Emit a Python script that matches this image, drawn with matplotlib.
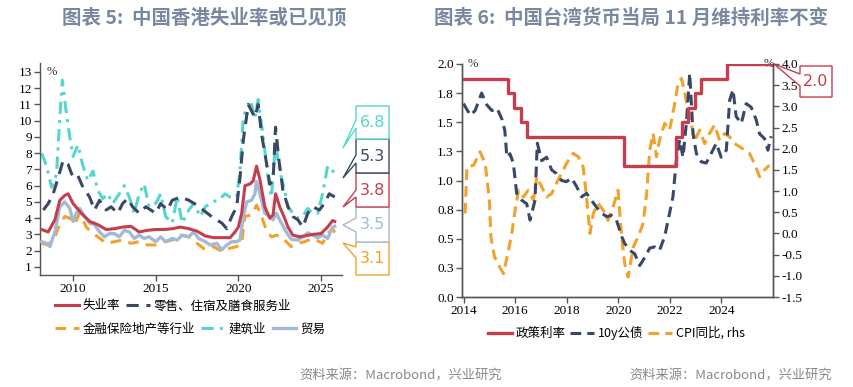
import matplotlib
matplotlib.use("Agg")
import matplotlib.pyplot as plt
from matplotlib.patches import Polygon

plt.rcParams['font.family'] = ['Noto Sans CJK SC', 'DejaVu Sans']

# ---------------- data: left chart (Hong Kong unemployment, %) ----------------
unemp_t = [2008.1, 2008.5, 2008.9, 2009.2, 2009.5, 2009.7, 2010.0, 2010.5, 2011.0, 2011.5, 2012.0, 2012.5,
           2013.0, 2013.5, 2014.0, 2014.5, 2015.0, 2015.5, 2016.0, 2016.5, 2017.0, 2017.5, 2018.0, 2018.5,
           2019.0, 2019.5, 2019.8, 2020.0, 2020.2, 2020.4, 2020.7, 2020.9, 2021.1, 2021.3, 2021.6, 2021.9,
           2022.1, 2022.25, 2022.5, 2022.8, 2023.0, 2023.3, 2023.7, 2024.0, 2024.5, 2025.0, 2025.4, 2025.7, 2025.83]
unemp_v = [3.3, 3.15, 3.9, 5.1, 5.4, 5.5, 4.9, 4.3, 3.8, 3.6, 3.3, 3.35,
           3.45, 3.5, 3.15, 3.25, 3.3, 3.3, 3.35, 3.45, 3.35, 3.2, 2.9, 2.8,
           2.8, 2.8, 3.15, 3.45, 4.3, 6.0, 6.1, 6.3, 7.2, 6.4, 4.7, 4.0,
           4.2, 5.5, 4.7, 4.0, 3.45, 2.95, 2.85, 2.9, 3.0, 3.05, 3.45, 3.85, 3.8]

retail_t = [2008.2, 2008.5, 2008.8, 2009.1, 2009.4, 2009.7, 2010.0, 2010.3, 2010.6, 2011.0, 2011.3, 2011.6,
            2012.0, 2012.3, 2012.7, 2013.0, 2013.3, 2013.6, 2014.0, 2014.4, 2014.7, 2015.0, 2015.3, 2015.7,
            2016.0, 2016.5, 2017.0, 2017.5, 2018.0, 2018.5, 2019.0, 2019.3, 2019.6, 2019.9, 2020.1, 2020.3,
            2020.6, 2020.8, 2021.0, 2021.2, 2021.4, 2021.7, 2021.9, 2022.1, 2022.25, 2022.45, 2022.7, 2023.0,
            2023.3, 2023.6, 2023.9, 2024.2, 2024.5, 2024.9, 2025.2, 2025.5, 2025.83]
retail_v = [4.5, 4.9, 5.5, 6.5, 7.55, 7.3, 6.5, 6.6, 5.9, 5.3, 4.5, 5.1,
            4.5, 4.7, 4.3, 4.9, 5.2, 4.7, 4.3, 4.7, 4.5, 4.3, 4.9, 4.5,
            5.1, 5.3, 5.1, 4.8, 4.4, 4.0, 3.7, 3.35, 4.1, 4.7, 6.5, 8.8,
            11.0, 10.6, 10.2, 11.0, 9.2, 7.4, 6.1, 6.3, 9.6, 7.6, 5.7, 4.7,
            4.1, 3.9, 3.45, 4.3, 4.7, 4.5, 4.9, 5.5, 5.3]

finance_t = [2008.1, 2008.5, 2008.9, 2009.2, 2009.5, 2009.8, 2010.1, 2010.4, 2010.8, 2011.1, 2011.5, 2012.0,
             2012.5, 2013.0, 2013.5, 2014.0, 2014.5, 2015.0, 2015.5, 2016.0, 2016.5, 2017.0, 2017.5, 2018.0,
             2018.5, 2019.0, 2019.5, 2019.9, 2020.2, 2020.4, 2020.8, 2021.1, 2021.4, 2021.7, 2022.0, 2022.3,
             2022.6, 2022.9, 2023.2, 2023.6, 2024.0, 2024.5, 2024.9, 2025.1, 2025.4, 2025.7, 2025.83]
finance_v = [2.45, 2.35, 2.85, 3.65, 4.1, 4.0, 3.65, 4.3, 3.45, 3.15, 2.85, 2.45,
             2.55, 2.65, 2.45, 2.55, 2.35, 2.35, 2.55, 2.65, 2.95, 2.85, 2.45, 2.05,
             2.25, 1.95, 2.15, 2.25, 2.45, 4.1, 4.2, 4.8, 4.1, 3.25, 2.85, 2.95,
             2.85, 2.55, 2.25, 2.45, 2.55, 2.75, 2.55, 2.45, 3.05, 3.35, 3.1]

constr_t = [2008.1, 2008.4, 2008.7, 2009.0, 2009.2, 2009.35, 2009.55, 2009.8, 2010.0, 2010.3, 2010.6, 2010.9,
            2011.2, 2011.5, 2011.8, 2012.1, 2012.4, 2012.8, 2013.1, 2013.4, 2013.7, 2014.0, 2014.3, 2014.6,
            2015.0, 2015.3, 2015.6, 2016.0, 2016.3, 2016.6, 2017.0, 2017.3, 2017.7, 2018.0, 2018.4, 2018.8,
            2019.2, 2019.5, 2019.9, 2020.1, 2020.3, 2020.5, 2020.8, 2021.0, 2021.2, 2021.5, 2021.8, 2022.0,
            2022.25, 2022.5, 2022.8, 2023.0, 2023.3, 2023.6, 2023.9, 2024.2, 2024.5, 2024.8, 2025.1, 2025.4,
            2025.7, 2025.83]
constr_v = [8.0, 7.2, 5.9, 6.7, 10.2, 12.5, 10.8, 9.0, 7.8, 8.5, 7.2, 6.3,
            6.9, 5.7, 5.2, 5.5, 4.9, 5.5, 6.0, 5.3, 4.3, 5.5, 6.1, 4.7,
            4.9, 5.5, 4.1, 3.7, 5.3, 3.7, 4.5, 4.9, 4.1, 4.7, 5.0, 5.1,
            5.5, 5.3, 5.3, 6.9, 10.2, 10.8, 11.0, 10.2, 11.3, 9.0, 6.5, 5.3,
            8.6, 6.9, 5.7, 4.7, 4.3, 4.0, 4.1, 4.6, 4.3, 4.3, 5.5, 7.2,
            6.9, 6.8]

trade_t = [2008.1, 2008.4, 2008.6, 2008.9, 2009.2, 2009.5, 2009.8, 2010.0, 2010.2, 2010.4, 2010.7, 2011.0,
           2011.3, 2011.6, 2011.9, 2012.2, 2012.5, 2012.8, 2013.1, 2013.4, 2013.7, 2014.0, 2014.3, 2014.6,
           2015.0, 2015.3, 2015.6, 2016.0, 2016.3, 2016.6, 2017.0, 2017.3, 2017.6, 2018.0, 2018.3, 2018.7,
           2019.0, 2019.3, 2019.6, 2019.9, 2020.1, 2020.3, 2020.5, 2020.8, 2021.0, 2021.1, 2021.3, 2021.6,
           2021.9, 2022.1, 2022.3, 2022.6, 2022.9, 2023.2, 2023.6, 2023.9, 2024.2, 2024.5, 2024.8, 2025.1,
           2025.4, 2025.7, 2025.83]
trade_v = [2.55, 2.45, 2.25, 3.15, 4.7, 5.0, 4.6, 3.8, 4.3, 4.6, 4.1, 3.7,
           3.6, 3.15, 2.85, 3.05, 3.05, 2.85, 3.25, 3.15, 2.75, 2.95, 2.75, 2.85,
           2.55, 2.85, 2.55, 2.75, 2.65, 2.95, 2.85, 3.15, 2.75, 2.55, 2.35, 2.45,
           2.05, 2.35, 2.55, 2.55, 2.65, 4.1, 5.0, 5.1, 5.5, 6.25, 5.5, 4.3,
           4.1, 3.9, 4.3, 3.7, 3.15, 2.7, 2.65, 2.85, 3.1, 2.95, 2.8, 2.95,
           2.75, 3.45, 3.5]

left_labels = ['失业率', '零售、住宿及膳食服务业', '金融保险地产等行业', '建筑业', '贸易']
left_xticks = [2010, 2015, 2020, 2025]
left_yticks = list(range(1, 14))

# ---------------- data: right chart (Taiwan) ----------------
policy_t = [2014.0, 2015.72, 2015.97, 2016.22, 2016.47, 2020.22, 2022.22, 2022.47, 2022.72, 2022.97,
            2023.22, 2024.22, 2026.0]
policy_v = [1.875, 1.75, 1.625, 1.5, 1.375, 1.125, 1.375, 1.5, 1.625, 1.75, 1.875, 2.0, 2.0]

bond_t = [2014.0, 2014.26, 2014.45, 2014.7, 2014.9, 2015.1, 2015.3, 2015.5, 2015.6, 2015.68, 2015.8, 2015.93,
          2016.06, 2016.26, 2016.45, 2016.58, 2016.77, 2016.86, 2017.03, 2017.22, 2017.42, 2017.6, 2017.8, 2017.99,
          2018.19, 2018.38, 2018.58, 2018.77, 2018.96, 2019.16, 2019.35, 2019.55, 2019.74, 2019.93, 2020.13, 2020.25,
          2020.45, 2020.64, 2020.83, 2021.03, 2021.22, 2021.41, 2021.6, 2021.8, 2021.99, 2022.12, 2022.25, 2022.38,
          2022.51, 2022.64, 2022.77, 2022.9, 2023.03, 2023.22, 2023.41, 2023.6, 2023.8, 2023.99, 2024.19, 2024.32,
          2024.45, 2024.57, 2024.77, 2024.96, 2025.15, 2025.35, 2025.48, 2025.67, 2025.8, 2025.93]
bond_v = [1.66, 1.56, 1.60, 1.75, 1.65, 1.60, 1.62, 1.52, 1.43, 1.20, 1.23, 1.15,
          0.89, 0.83, 0.80, 0.66, 0.83, 1.32, 1.17, 1.20, 1.09, 1.06, 1.00, 0.99,
          1.02, 0.95, 0.86, 0.89, 0.83, 0.77, 0.72, 0.69, 0.70, 0.66, 0.52, 0.46,
          0.40, 0.37, 0.27, 0.34, 0.42, 0.43, 0.40, 0.52, 0.72, 0.86, 1.17, 1.35,
          1.20, 1.49, 1.92, 1.40, 1.23, 1.16, 1.15, 1.23, 1.32, 1.20, 1.26, 1.69,
          1.78, 1.55, 1.49, 1.66, 1.63, 1.52, 1.40, 1.36, 1.26, 1.38]

cpi_t = [2014.06, 2014.13, 2014.39, 2014.64, 2014.84, 2015.0, 2015.06, 2015.2, 2015.4, 2015.55, 2015.74, 2015.87,
         2016.0, 2016.13, 2016.32, 2016.51, 2016.71, 2016.84, 2017.03, 2017.22, 2017.42, 2017.6, 2017.8, 2017.99,
         2018.25, 2018.45, 2018.64, 2018.77, 2018.9, 2019.03, 2019.22, 2019.42, 2019.6, 2019.8, 2019.99, 2020.13,
         2020.25, 2020.38, 2020.58, 2020.77, 2020.96, 2021.1, 2021.22, 2021.35, 2021.48, 2021.6, 2021.8, 2021.99,
         2022.19, 2022.32, 2022.45, 2022.58, 2022.7, 2022.83, 2022.96, 2023.16, 2023.35, 2023.54, 2023.73, 2023.93,
         2024.12, 2024.32, 2024.51, 2024.7, 2024.9, 2025.09, 2025.28, 2025.48, 2025.67, 2025.86]
cpi_v = [0.47, 1.57, 1.61, 1.93, 1.65, 0.79, -0.08, -0.55, -0.79, -0.95, -0.40, 0.0,
         0.55, 1.02, 0.86, 1.02, 0.79, 1.34, 1.10, 0.86, 0.94, 1.18, 1.42, 1.65,
         1.89, 1.81, 1.57, 0.86, 0.0, 0.47, 0.71, 0.55, 0.31, 0.63, 1.02, -0.08,
         -0.71, -1.03, -0.32, -0.08, 0.23, 0.94, 1.97, 2.36, 1.81, 2.20, 2.60, 2.44,
         3.07, 3.54, 3.66, 3.31, 2.91, 2.60, 2.20, 2.44, 2.12, 2.36, 2.56, 2.20,
         2.36, 2.28, 2.12, 2.05, 1.97, 1.89, 1.65, 1.34, 1.50, 1.61]

right_labels = ['政策利率', '10y公债', 'CPI同比, rhs']
right_xticks = [2014, 2016, 2018, 2020, 2022, 2024]
right_yticks = [0.0, 0.25, 0.5, 0.75, 1.0, 1.25, 1.5, 1.75, 2.0]
right_yticklabels = ['0.0', '0.3', '0.5', '0.8', '1.0', '1.3', '1.5', '1.8', '2.0']
rhs_yticks = [-1.5, -1.0, -0.5, 0.0, 0.5, 1.0, 1.5, 2.0, 2.5, 3.0, 3.5, 4.0]

# ---------------- style ----------------
RED = '#C63E4E'
NAVY = '#3A4868'
ORANGE = '#F2A22C'
TURQ = '#55D6CC'
LBLUE = '#A3BAD6'
TITLE_C = '#7A889F'
AXC = '#555555'
SERIF = 'Liberation Serif'

W, H = 854, 387
fig = plt.figure(figsize=(W / 100, H / 100), dpi=100)


def fx(x):
    return x / W


def fy(y):
    return 1 - y / H


def style_axis(ax):
    for s in ax.spines.values():
        s.set_color(AXC)
        s.set_linewidth(1.0)
    ax.tick_params(direction='out', length=4, width=1, color=AXC, labelsize=9.5, pad=2)
    for lab in ax.get_xticklabels() + ax.get_yticklabels():
        lab.set_fontfamily(SERIF)


# ---------------- left chart ----------------
axL = fig.add_axes([fx(40), fy(275), fx(342) - fx(40), fy(63) - fy(275)])
axL.plot(unemp_t, unemp_v, color=RED, lw=2.2, label=left_labels[0], zorder=5)
axL.plot(retail_t, retail_v, color=NAVY, lw=2.2, ls=(0, (4, 2.5)), label=left_labels[1], zorder=3)
axL.plot(finance_t, finance_v, color=ORANGE, lw=2.2, ls=(0, (3.5, 2.5)), label=left_labels[2], zorder=3)
axL.plot(constr_t, constr_v, color=TURQ, lw=2.2, ls=(0, (4, 2, 1, 2)), label=left_labels[3], zorder=2)
axL.plot(trade_t, trade_v, color=LBLUE, lw=2.4, label=left_labels[4], zorder=4)
axL.set_xlim(2008.0, 2026.27)
axL.set_ylim(0.5, 13.55)
axL.set_xticks(left_xticks)
axL.set_yticks(left_yticks)
axL.spines['top'].set_visible(False)
axL.spines['right'].set_visible(False)
style_axis(axL)
axL.text(2008.4, 13.0, '%', fontsize=9, family=SERIF, va='center', ha='left', color='#333333')

h = axL.get_lines()
fig.legend(handles=[h[0], h[1]], loc='center left', bbox_to_anchor=(fx(55), fy(306)),
           ncol=2, frameon=False, fontsize=9, handlelength=1.9, handletextpad=0.3,
           columnspacing=0.5, borderaxespad=0, borderpad=0)
fig.legend(handles=[h[2], h[3], h[4]], loc='center left', bbox_to_anchor=(fx(55), fy(329)),
           ncol=3, frameon=False, fontsize=9, handlelength=1.9, handletextpad=0.3,
           columnspacing=0.5, borderaxespad=0, borderpad=0)


def callout(x0, y0, x1, y1, b1, b2, tx, ty, color, text):
    pts = [(x0, y0), (x1, y0), (x1, y1), (x0, y1), (x0, b2), (tx, ty), (x0, b1)]
    poly = Polygon([(fx(a), fy(b)) for a, b in pts], closed=True, transform=fig.transFigure,
                   facecolor='white', edgecolor=color, lw=1.0, zorder=10)
    fig.add_artist(poly)
    fig.text(fx((x0 + x1) / 2), fy((y0 + y1) / 2), text, color=color, fontsize=11.5,
             family='DejaVu Sans', ha='center', va='center', zorder=11)


# boxes at series ends (bottom-to-top drawing so upper borders stay visible)
callout(356, 242, 389, 275, 247, 258, 343, 243, ORANGE, f'{finance_v[-1]:.1f}')
callout(356, 207, 389, 242, 218, 232, 343, 225, LBLUE, f'{trade_v[-1]:.1f}')
callout(356, 173, 389, 207, 190, 197, 343, 207, RED, f'{unemp_v[-1]:.1f}')
callout(356, 139, 389, 173, 155, 163, 343, 178, NAVY, f'{retail_v[-1]:.1f}')
callout(356, 106, 389, 139, 120, 128, 343, 148, TURQ, f'{constr_v[-1]:.1f}')

# ---------------- right chart ----------------
axR = fig.add_axes([fx(462), fy(297), fx(773) - fx(462), fy(64) - fy(297)])
axR2 = axR.twinx()
l1, = axR.step(policy_t, policy_v, where='post', color=RED, lw=2.4, label=right_labels[0], zorder=5)
l2, = axR.plot(bond_t, bond_v, color=NAVY, lw=2.2, ls=(0, (3.5, 2)), label=right_labels[1], zorder=4)
l3, = axR2.plot(cpi_t, cpi_v, color=ORANGE, lw=2.2, ls=(0, (3.5, 2)), label=right_labels[2], zorder=3)
axR.set_zorder(axR2.get_zorder() + 1)
axR.patch.set_visible(False)
axR.set_xlim(2013.94, 2026.0)
axR.set_ylim(0.0, 2.0)
axR2.set_ylim(-1.5, 4.0)
axR.set_xticks(right_xticks)
axR.set_yticks(right_yticks)
axR.set_yticklabels(right_yticklabels)
axR2.set_yticks(rhs_yticks)
axR2.set_yticklabels([f'{v:.1f}' for v in rhs_yticks])
for a in (axR, axR2):
    a.spines['top'].set_visible(False)
    style_axis(a)
axR.text(2014.15, 2.0, '%', fontsize=9, family=SERIF, va='center', ha='left', color='#333333')
axR.text(2025.65, 2.0, '%', fontsize=9, family=SERIF, va='center', ha='left', color='#333333')

fig.legend(handles=[l1, l2, l3], loc='center left', bbox_to_anchor=(fx(488), fy(333)),
           ncol=3, frameon=False, fontsize=9, handlelength=1.9, handletextpad=0.3,
           columnspacing=0.4, borderaxespad=0, borderpad=0)

callout(800, 66, 832, 97, 74, 86, 774, 64, RED, f'{policy_v[-1]:.1f}')

# ---------------- titles and sources ----------------
fig.text(fx(62), fy(18), '图表 5:  中国香港失业率或已见顶', color=TITLE_C, fontsize=14,
         fontweight='bold', ha='left', va='center')
fig.text(fx(434), fy(18), '图表 6:  中国台湾货币当局 11 月维持利率不变', color=TITLE_C, fontsize=14,
         fontweight='bold', ha='left', va='center')
fig.text(fx(502), fy(376), '资料来源：Macrobond，兴业研究', color='#888888', fontsize=9.5,
         ha='right', va='center')
fig.text(fx(832), fy(376), '资料来源：Macrobond，兴业研究', color='#888888', fontsize=9.5,
         ha='right', va='center')

fig.savefig('out.png', dpi=100, facecolor='white')
